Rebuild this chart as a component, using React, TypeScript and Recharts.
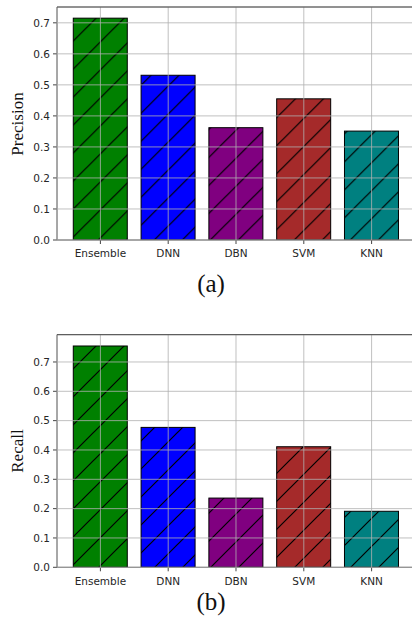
import React from 'react';
import { BarChart, Bar, XAxis, YAxis, CartesianGrid, ReferenceLine } from 'recharts';

const CATEGORIES = ['Ensemble', 'DNN', 'DBN', 'SVM', 'KNN'];
const PRECISION = [0.715, 0.531, 0.362, 0.455, 0.351];
const RECALL = [0.7545, 0.477, 0.236, 0.411, 0.191];
const Y_TICKS = [0, 0.1, 0.2, 0.3, 0.4, 0.5, 0.6, 0.7];
const COLORS = ['#008000', '#0000ff', '#800080', '#a52a2a', '#008080'];
const PRECISION_MAX = 0.751;
const RECALL_MAX = 0.793;

const precisionData = CATEGORIES.map((name, i) => ({ name, value: PRECISION[i] }));
const recallData = CATEGORIES.map((name, i) => ({ name, value: RECALL[i] }));

const TICK_FONT = { fontFamily: 'DejaVu Sans', fontSize: 10.5, fill: '#262626' };
const AXIS_COLOR = '#444';
const GRID_COLOR = '#b0b0b0';
const HATCH = 28;

const makeShape = (patternId: string) => (props: any) => {
  const { x, y, width, height, index } = props;
  if (width == null || height == null) return <g />;
  return (
    <g>
      <rect x={x} y={y} width={width} height={height} fill={COLORS[index]} />
      <rect x={x} y={y} width={width} height={height} fill={`url(#${patternId})`} />
      <rect x={x} y={y} width={width} height={height} fill="none" stroke="#000" strokeWidth={1} />
    </g>
  );
};

function Panel({ data, yMax, patternId, height, marginTop, hatchShift }: any) {
  const h = HATCH;
  return (
    <BarChart
      width={415}
      height={height}
      data={data}
      margin={{ top: marginTop, right: 0, bottom: 0, left: 0 }}
      barCategoryGap="10%"
    >
      <defs>
        <pattern id={patternId} patternUnits="userSpaceOnUse" x={hatchShift} y={0} width={h} height={h}>
          <path
            d={`M-1,${h + 1} L${h + 1},-1 M-5,5 L5,-5 M${h - 5},${h + 5} L${h + 5},${h - 5}`}
            stroke="#000"
            strokeWidth={1.2}
          />
        </pattern>
      </defs>
      <XAxis
        dataKey="name"
        type="category"
        padding={{ left: 9.5, right: 9.5 }}
        height={30}
        tickSize={4}
        tickMargin={6}
        tick={TICK_FONT}
        axisLine={{ stroke: AXIS_COLOR }}
        tickLine={{ stroke: AXIS_COLOR }}
        interval={0}
      />
      <YAxis
        type="number"
        domain={[0, yMax]}
        ticks={Y_TICKS}
        width={57}
        tickSize={4}
        tickMargin={3}
        tick={TICK_FONT}
        axisLine={{ stroke: AXIS_COLOR }}
        tickLine={{ stroke: AXIS_COLOR }}
        tickFormatter={(v: number) => v.toFixed(1)}
        allowDataOverflow
      />
      <Bar dataKey="value" isAnimationActive={false} shape={makeShape(patternId)} />
      <CartesianGrid stroke={GRID_COLOR} strokeWidth={0.8} zIndex={600} />
      <ReferenceLine y={yMax} stroke={AXIS_COLOR} strokeWidth={1} zIndex={600} />
    </BarChart>
  );
}

export default function App() {
  return (
    <div
      style={{
        position: 'absolute',
        left: 0,
        top: 0,
        width: 412,
        height: 625,
        overflow: 'hidden',
        background: '#fff',
      }}
    >
      <div style={{ position: 'absolute', left: 0, top: 0 }}>
        <Panel data={precisionData} yMax={PRECISION_MAX} patternId="hatchA" height={270} marginTop={7} hatchShift={2.3} />
      </div>
      <div style={{ position: 'absolute', left: 0, top: 320 }}>
        <Panel data={recallData} yMax={RECALL_MAX} patternId="hatchB" height={277.3} marginTop={14.7} hatchShift={10} />
      </div>
      <svg
        width={412}
        height={625}
        style={{ position: 'absolute', left: 0, top: 0, pointerEvents: 'none' }}
      >
        <text
          x={22.5}
          y={124}
          transform="rotate(-90, 22.5, 124)"
          textAnchor="middle"
          fontFamily="Liberation Serif"
          fontSize={17}
          fill="#111"
        >
          Precision
        </text>
        <text
          x={22.5}
          y={451}
          transform="rotate(-90, 22.5, 451)"
          textAnchor="middle"
          fontFamily="Liberation Serif"
          fontSize={17}
          fill="#111"
        >
          Recall
        </text>
        <text x={211} y={292} textAnchor="middle" fontFamily="Liberation Serif" fontSize={25} fill="#111">
          (a)
        </text>
        <text x={211} y={610} textAnchor="middle" fontFamily="Liberation Serif" fontSize={25} fill="#111">
          (b)
        </text>
      </svg>
    </div>
  );
}
